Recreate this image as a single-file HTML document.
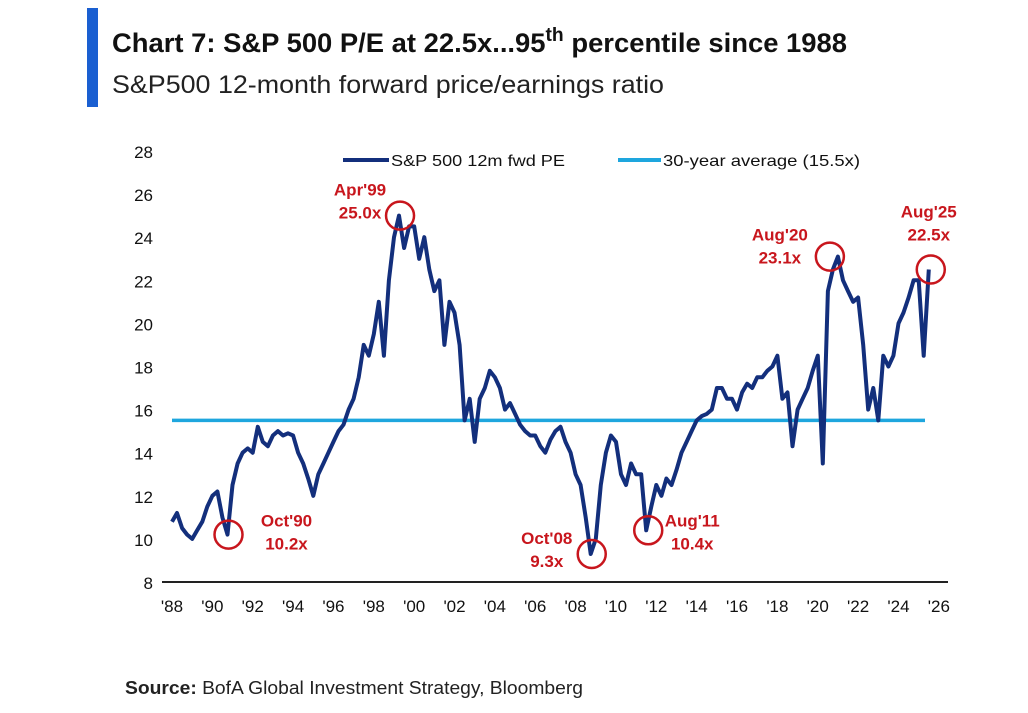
<!DOCTYPE html>
<html><head><meta charset="utf-8"><style>
body{margin:0;background:#fff;width:1028px;height:708px;overflow:hidden;font-family:"Liberation Sans",Arial,sans-serif}
</style></head><body>
<svg width="1028" height="708" viewBox="0 0 1028 708">
<rect x="87" y="8" width="11" height="99" fill="#1a5fd1"/>
<text x="112" y="52" font-size="27" font-weight="bold" fill="#111" textLength="735" lengthAdjust="spacingAndGlyphs">Chart 7: S&amp;P 500 P/E at 22.5x...95<tspan font-size="19" dy="-11">th</tspan><tspan dy="11"> percentile since 1988</tspan></text>
<text x="112" y="93" font-size="25" fill="#222" textLength="552" lengthAdjust="spacingAndGlyphs">S&amp;P500 12-month forward price/earnings ratio</text>
<g id="axes"></g>
<g id="plot"></g>
<g>
<line x1="343" y1="160" x2="389" y2="160" stroke="#132f7c" stroke-width="4"/>
<text x="391" y="166" font-size="16" fill="#111" textLength="174" lengthAdjust="spacingAndGlyphs">S&amp;P 500 12m fwd PE</text>
<line x1="618" y1="160" x2="661" y2="160" stroke="#1ea6de" stroke-width="4"/>
<text x="663" y="166" font-size="16" fill="#111" textLength="197" lengthAdjust="spacingAndGlyphs">30-year average (15.5x)</text>
</g>
<text x="125" y="694" font-size="18" fill="#222" textLength="458" lengthAdjust="spacingAndGlyphs"><tspan font-weight="bold">Source:</tspan> BofA Global Investment Strategy, Bloomberg</text>
</svg>
<script>
const yTicks=[8,10,12,14,16,18,20,22,24,26,28];
const xTickLabels=["'88","'90","'92","'94","'96","'98","'00","'02","'04","'06","'08","'10","'12","'14","'16","'18","'20","'22","'24","'26"];
const startYear=1988;
const peValues=[10.8,11.2,10.5,10.2, 10.0,10.4,10.8,11.5, 12.0,12.2,11.0,10.2, 12.5,13.5,14.0,14.2,
14.0,15.2,14.5,14.3, 14.8,15.0,14.8,14.9, 14.8,14.0,13.5,12.8, 12.0,13.0,13.5,14.0,
14.5,15.0,15.3,16.0, 16.5,17.5,19.0,18.5, 19.5,21.0,18.5,22.0, 24.0,25.0,23.5,24.5,
24.5,23.0,24.0,22.5, 21.5,22.0,19.0,21.0, 20.5,19.0,15.5,16.5, 14.5,16.5,17.0,17.8,
17.5,17.0,16.0,16.3, 15.8,15.3,15.0,14.8, 14.8,14.3,14.0,14.6, 15.0,15.2,14.5,14.0,
13.0,12.5,11.0,9.3, 10.0,12.5,14.0,14.8, 14.5,13.0,12.5,13.5, 13.0,13.0,10.4,11.5,
12.5,12.0,12.8,12.5, 13.2,14.0,14.5,15.0, 15.5,15.7,15.8,16.0, 17.0,17.0,16.5,16.5,
16.0,16.8,17.2,17.0, 17.5,17.5,17.8,18.0, 18.5,16.5,16.8,14.3, 16.0,16.5,17.0,17.8,
18.5,13.5,21.5,22.5, 23.1,22.0,21.5,21.0, 21.2,19.0,16.0,17.0, 15.5,18.5,18.0,18.5,
20.0,20.5,21.2,22.0, 22.0,18.5,22.5];
const averageValue=15.5;
const annYears=[1990.8,1999.3,2008.8,2011.6,2020.6,2025.6];
const annValues=[10.2,25.0,9.3,10.4,23.1,22.5];
const annLabels=[["Oct'90","10.2x"],["Apr'99","25.0x"],["Oct'08","9.3x"],["Aug'11","10.4x"],["Aug'20","23.1x"],["Aug'25","22.5x"]];

const X=yr=>172+(yr-1988)*20.18;
const Y=v=>582-(v-8)*21.55;
const NS="http://www.w3.org/2000/svg";
function mk(t,a,p){const e=document.createElementNS(NS,t);for(const k in a)e.setAttribute(k,a[k]);p.appendChild(e);return e;}
const axes=document.getElementById('axes'),plot=document.getElementById('plot');
yTicks.forEach(v=>{const t=mk('text',{x:153,y:Y(v)+7,'font-size':17,'text-anchor':'end',fill:'#111'},axes);t.textContent=v;

});
xTickLabels.forEach((s,i)=>{const t=mk('text',{x:X(1988+2*i),y:612,'font-size':17,'text-anchor':'middle',fill:'#111'},axes);t.textContent=s;

});
const ax=mk('line',{x1:162,y1:Y(8),x2:948,y2:Y(8),stroke:'#222','stroke-width':2},axes);


const avg=mk('line',{x1:X(1988),y1:Y(averageValue),x2:925,y2:Y(averageValue),stroke:'#1ea6de','stroke-width':3.5},plot);


const pts=peValues.map((v,i)=>X(startYear+i/4).toFixed(1)+','+Y(v).toFixed(1)).join(' ');
const pl=mk('polyline',{points:pts,fill:'none',stroke:'#132f7c','stroke-width':4,'stroke-linejoin':'round'},plot);


const offs=[[58,-8,1],[-40,-20,-1],[-45,-10,-1],[44,-4,1],[-50,-16,-1],[-2,-52,0]];
annYears.forEach((yr,i)=>{const cx=X(yr),cy=Y(annValues[i]);
const c=mk('circle',{cx:cx,cy:cy,r:14,fill:'none',stroke:'#c8161d','stroke-width':2.5},plot);


const [dx,dy]=offs[i];
annLabels[i].forEach((s,j)=>{const t=mk('text',{x:cx+dx,y:cy+dy+j*23,'font-size':17,'font-weight':'bold','text-anchor':'middle',fill:'#c8161d'},plot);t.textContent=s;

});});
</script>
</body></html>
